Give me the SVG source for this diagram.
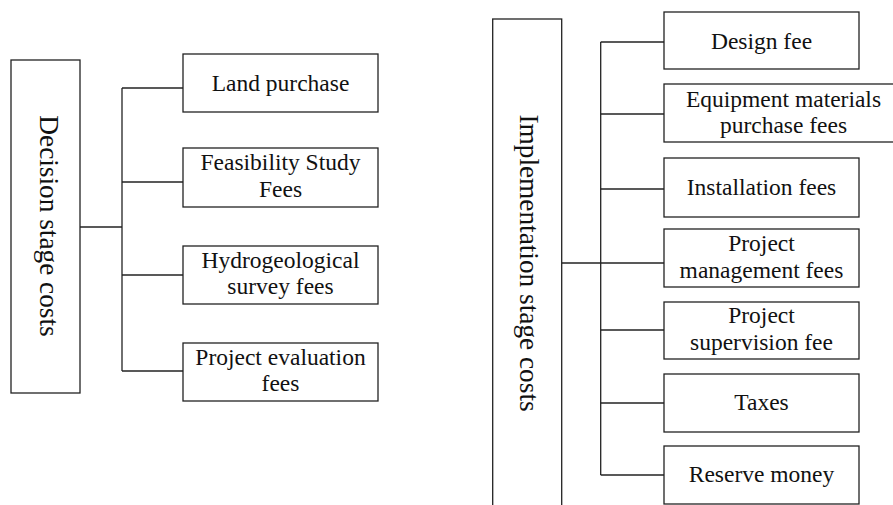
<svg xmlns="http://www.w3.org/2000/svg" width="893" height="505" viewBox="0 0 893 505">
<style>
rect{fill:#fff;stroke:#222;stroke-width:1.3}
.c line{stroke:#222;stroke-width:1.3}
text{font-family:"Liberation Serif","Times New Roman",serif;font-size:23.5px;fill:#111;text-anchor:middle}
.v{font-size:27.3px}
</style>
<rect x="0" y="0" width="893" height="505" style="stroke:none"/>
<g class="c" id="connectors">
<line x1="80" y1="227" x2="122" y2="227"/>
<line x1="122" y1="88" x2="122" y2="371"/>
<line x1="122" y1="88" x2="183" y2="88"/>
<line x1="122" y1="182" x2="183" y2="182"/>
<line x1="122" y1="275" x2="183" y2="275"/>
<line x1="122" y1="371" x2="183" y2="371"/>
<line x1="561.7" y1="263" x2="600.7" y2="263"/>
<line x1="600.7" y1="42" x2="600.7" y2="475"/>
<line x1="600.7" y1="42" x2="664" y2="42"/>
<line x1="600.7" y1="114" x2="664" y2="114"/>
<line x1="600.7" y1="189" x2="664" y2="189"/>
<line x1="600.7" y1="263" x2="664" y2="263"/>
<line x1="600.7" y1="330" x2="664" y2="330"/>
<line x1="600.7" y1="403" x2="664" y2="403"/>
<line x1="600.7" y1="475" x2="664" y2="475"/>
</g>
<g id="decision">
<rect x="11" y="60" width="69" height="333"/>
<text class="v" transform="translate(39.5,226) rotate(90)">Decision stage costs</text>
</g>
<g id="land">
<rect x="183" y="54" width="195" height="58"/>
<text x="280.5" y="91">Land purchase</text>
</g>
<g id="feasibility">
<rect x="183" y="148" width="195" height="59"/>
<text x="280.5" y="170">Feasibility Study</text>
<text x="280.5" y="196.5">Fees</text>
</g>
<g id="hydro">
<rect x="183" y="246" width="195" height="58"/>
<text x="280.5" y="267.5">Hydrogeological</text>
<text x="280.5" y="294">survey fees</text>
</g>
<g id="evaluation">
<rect x="183" y="343" width="195" height="58"/>
<text x="280.5" y="364.5">Project evaluation</text>
<text x="280.5" y="391">fees</text>
</g>
<g id="implementation">
<rect x="492.7" y="19" width="69" height="510"/>
<text class="v" transform="translate(520,263) rotate(90)">Implementation stage costs</text>
</g>
<g id="design">
<rect x="664" y="12" width="195" height="57"/>
<text x="761.5" y="48.5">Design fee</text>
</g>
<g id="equipment">
<rect x="664" y="84" width="240" height="58"/>
<text x="783.5" y="106.7">Equipment materials</text>
<text x="783.5" y="133.3">purchase fees</text>
</g>
<g id="installation">
<rect x="664" y="158" width="195" height="59"/>
<text x="761.5" y="194.5">Installation fees</text>
</g>
<g id="management">
<rect x="664" y="229" width="195" height="58"/>
<text x="761.5" y="250.5">Project</text>
<text x="761.5" y="277.5">management fees</text>
</g>
<g id="supervision">
<rect x="664" y="302" width="195" height="57"/>
<text x="761.5" y="322.5">Project</text>
<text x="761.5" y="349.5">supervision fee</text>
</g>
<g id="taxes">
<rect x="664" y="374" width="195" height="58"/>
<text x="761.5" y="409.5">Taxes</text>
</g>
<g id="reserve">
<rect x="664" y="446" width="195" height="58"/>
<text x="761.5" y="481.5">Reserve money</text>
</g>
</svg>
